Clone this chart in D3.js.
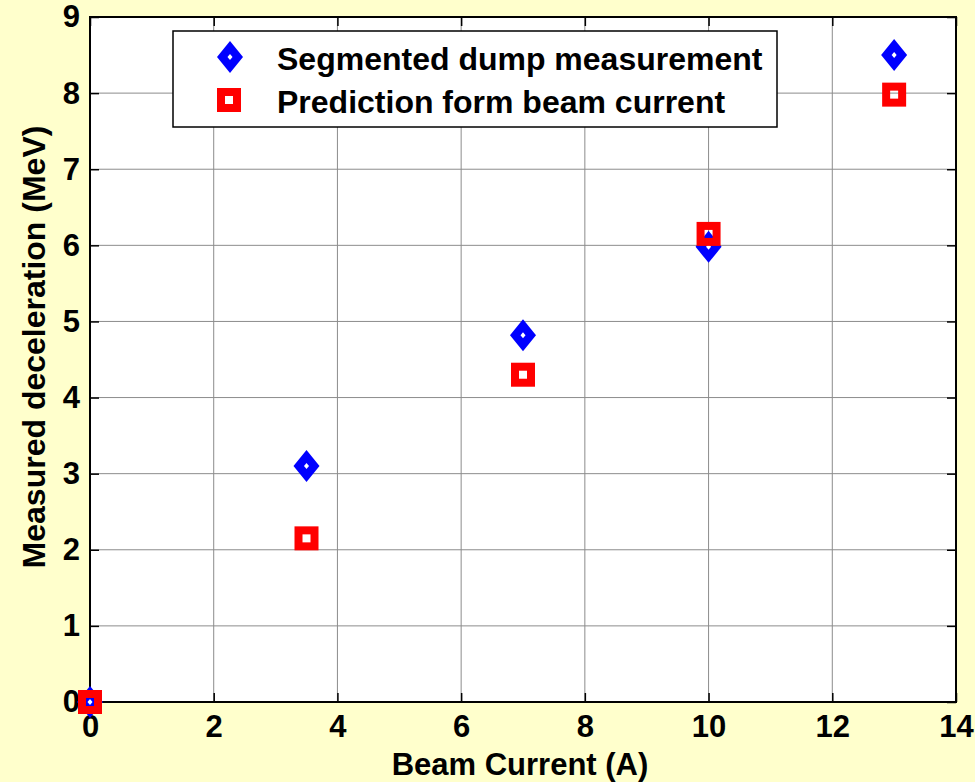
<!DOCTYPE html>
<html>
<head>
<meta charset="utf-8">
<script src="https://cdn.jsdelivr.net/npm/d3@7"></script>
<style>
  body { margin: 0; background: #ffffcc; }
  text { font-family: "Liberation Sans", Arial, sans-serif; font-weight: bold; }
</style>
</head>
<body>
<div id="wrapper"></div>
<script>
const currents = [0, 3.5, 7, 10, 13];
const measured = [0, 3.1, 4.82, 5.98, 8.5];
const predicted = [0, 2.15, 4.3, 6.15, 7.98];
const xTicks = [0, 2, 4, 6, 8, 10, 12, 14];
const yTicks = [0, 1, 2, 3, 4, 5, 6, 7, 8, 9];
const seriesNames = ['Segmented dump measurement', 'Prediction form beam current'];

const dimensions = {
    width: 975,
    height: 782,
    margin: { top: 17, right: 19, bottom: 80, left: 90 },
};
dimensions.boundedWidth = dimensions.width - dimensions.margin.left - dimensions.margin.right;
dimensions.boundedHeight = dimensions.height - dimensions.margin.top - dimensions.margin.bottom;

const svg = d3.select('#wrapper')
    .append('svg')
    .attr('width', dimensions.width)
    .attr('height', dimensions.height);

svg.append('rect')
    .attr('width', dimensions.width)
    .attr('height', dimensions.height)
    .attr('fill', '#ffffcc');

const bounds = svg.append('g')
    .attr('transform', `translate(${dimensions.margin.left},${dimensions.margin.top})`);

const xScale = d3.scaleLinear().domain([0, 14]).range([0, dimensions.boundedWidth]);
const yScale = d3.scaleLinear().domain([0, 9]).range([dimensions.boundedHeight, 0]);

bounds.append('rect')
    .attr('width', dimensions.boundedWidth)
    .attr('height', dimensions.boundedHeight)
    .attr('fill', 'white');

// grid
bounds.append('g').selectAll('line').data(xTicks).join('line')
    .attr('x1', d => xScale(d)).attr('x2', d => xScale(d))
    .attr('y1', 0).attr('y2', dimensions.boundedHeight)
    .attr('stroke', '#8c8c8c').attr('stroke-width', 1);
bounds.append('g').selectAll('line').data(yTicks).join('line')
    .attr('y1', d => yScale(d)).attr('y2', d => yScale(d))
    .attr('x1', 0).attr('x2', dimensions.boundedWidth)
    .attr('stroke', '#8c8c8c').attr('stroke-width', 1);

// axes (inward ticks, MATLAB style, mirrored)
const tickLen = 9;
const xAxis = bounds.append('g')
    .attr('transform', `translate(0,${dimensions.boundedHeight})`)
    .call(d3.axisBottom(xScale).tickValues(xTicks).tickSize(-tickLen).tickPadding(13).tickSizeOuter(0));
const yAxis = bounds.append('g')
    .call(d3.axisLeft(yScale).tickValues(yTicks).tickSize(-tickLen).tickPadding(10).tickSizeOuter(0));
bounds.append('g')
    .call(d3.axisTop(xScale).tickValues(xTicks).tickSize(-tickLen).tickFormat('').tickSizeOuter(0))
    .select('.domain').remove();
bounds.append('g')
    .attr('transform', `translate(${dimensions.boundedWidth},0)`)
    .call(d3.axisRight(yScale).tickValues(yTicks).tickSize(-tickLen).tickFormat('').tickSizeOuter(0))
    .select('.domain').remove();

[xAxis, yAxis].forEach(a => {
    a.select('.domain').remove();
    a.selectAll('text')
        .attr('font-size', 31)
        .attr('font-weight', 'bold')
        .attr('font-family', '"Liberation Sans", Arial, sans-serif')
        .attr('fill', 'black');
});
bounds.selectAll('.tick line').attr('stroke', 'black').attr('stroke-width', 1.5);

bounds.append('rect')
    .attr('width', dimensions.boundedWidth)
    .attr('height', dimensions.boundedHeight)
    .attr('fill', 'none')
    .attr('stroke', 'black')
    .attr('stroke-width', 2);

// axis titles
svg.append('text')
    .attr('x', 520)
    .attr('y', 775)
    .attr('text-anchor', 'middle')
    .attr('font-size', 31)
    .text('Beam Current (A)');
svg.append('text')
    .attr('transform', 'translate(45,347) rotate(-90)')
    .attr('text-anchor', 'middle')
    .attr('font-size', 32)
    .text('Measured deceleration (MeV)');

// markers
function diamond(g, cx, cy) {
    g.append('path')
        .attr('d', `M${cx},${cy - 16} L${cx + 13},${cy} L${cx},${cy + 16} L${cx - 13},${cy} Z`)
        .attr('fill', 'blue');
    g.append('path')
        .attr('d', `M${cx},${cy - 3} L${cx + 2.5},${cy} L${cx},${cy + 3} L${cx - 2.5},${cy} Z`)
        .attr('fill', 'white');
}
function square(g, cx, cy) {
    g.append('rect')
        .attr('x', cx - 8).attr('y', cy - 8)
        .attr('width', 16).attr('height', 16)
        .attr('fill', 'none')
        .attr('stroke', 'red')
        .attr('stroke-width', 8);
}

const marks = bounds.append('g');
currents.forEach((c, i) => diamond(marks, xScale(c), yScale(measured[i])));
currents.forEach((c, i) => square(marks, xScale(c), yScale(predicted[i])));

// legend
const legend = svg.append('g').attr('transform', 'translate(173,31)');
legend.append('rect')
    .attr('width', 604).attr('height', 96)
    .attr('fill', 'white')
    .attr('stroke', 'black')
    .attr('stroke-width', 1.5);
diamond(legend, 57, 26);
square(legend, 56, 69);
seriesNames.forEach((name, i) => {
    legend.append('text')
        .attr('x', 104)
        .attr('y', 39 + i * 43)
        .attr('font-size', 32)
        .text(name);
});
</script>
</body>
</html>
